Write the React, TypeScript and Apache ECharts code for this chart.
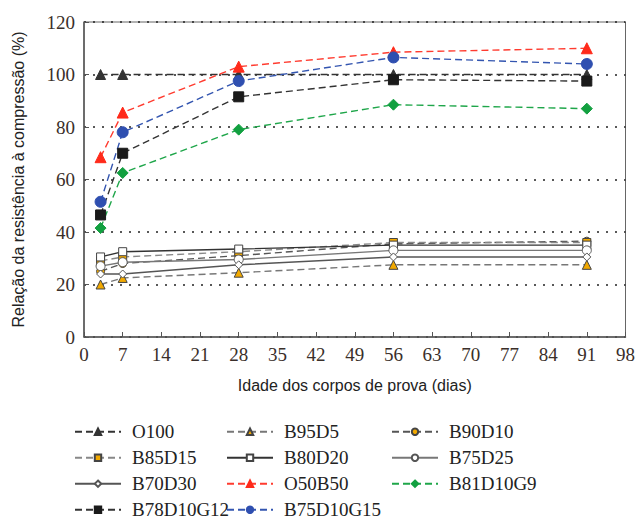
import React, { useEffect, useRef } from "react";
import * as echarts from "echarts";

const days = [3, 7, 28, 56, 91];
const xTicks = [0, 7, 14, 21, 28, 35, 42, 49, 56, 63, 70, 77, 84, 91, 98];
const yTicks = [0, 20, 40, 60, 80, 100, 120];

const O100 = [100, 100, 100, 100, 100];
const B95D5 = [20, 22.5, 24.5, 27.5, 27.5];
const B90D10 = [25, 28, 31, 35.5, 36.5];
const B85D15 = [29, 30.5, 32.5, 36, 36];
const B80D20 = [30.5, 32.5, 33.5, 35, 35];
const B75D25 = [27, 28.5, 29.5, 33, 33];
const B70D30 = [24, 24, 27.5, 30.5, 30.5];
const O50B50 = [68.5, 85.5, 103, 108.5, 110];
const B81D10G9 = [41.5, 62.5, 79, 88.5, 87];
const B78D10G12 = [46.5, 70, 91.5, 98, 97.5];
const B75D10G15 = [51.5, 78, 97.5, 106.5, 104];

const ORANGE = "#f2a900";

type Spec = {
  name: string;
  data: number[];
  color: string;
  dash: boolean;
  symbol: string;
  fill: string;
  border: string;
  size: number;
};

const specs: Spec[] = [
  { name: "O100", data: O100, color: "#333333", dash: true, symbol: "triangle", fill: "#333333", border: "#333333", size: 10 },
  { name: "B95D5", data: B95D5, color: "#777777", dash: true, symbol: "triangle", fill: ORANGE, border: "#444444", size: 9 },
  { name: "B90D10", data: B90D10, color: "#555555", dash: true, symbol: "circle", fill: ORANGE, border: "#444444", size: 8 },
  { name: "B85D15", data: B85D15, color: "#888888", dash: true, symbol: "rect", fill: ORANGE, border: "#444444", size: 8 },
  { name: "B80D20", data: B80D20, color: "#333333", dash: false, symbol: "rect", fill: "#ffffff", border: "#444444", size: 8 },
  { name: "B75D25", data: B75D25, color: "#777777", dash: false, symbol: "circle", fill: "#ffffff", border: "#555555", size: 9 },
  { name: "B70D30", data: B70D30, color: "#555555", dash: false, symbol: "diamond", fill: "#ffffff", border: "#555555", size: 8 },
  { name: "O50B50", data: O50B50, color: "#ff3b2f", dash: true, symbol: "triangle", fill: "#ff2a1a", border: "#ff2a1a", size: 11 },
  { name: "B81D10G9", data: B81D10G9, color: "#1fa64a", dash: true, symbol: "diamond", fill: "#12a040", border: "#12a040", size: 11 },
  { name: "B78D10G12", data: B78D10G12, color: "#333333", dash: true, symbol: "rect", fill: "#1a1a1a", border: "#1a1a1a", size: 10 },
  { name: "B75D10G15", data: B75D10G15, color: "#3355b0", dash: true, symbol: "circle", fill: "#2f4fb0", border: "#2f4fb0", size: 11 },
];

const legendCols = [
  ["O100", "B85D15", "B70D30", "B78D10G12"],
  ["B95D5", "B80D20", "O50B50", "B75D10G15"],
  ["B90D10", "B75D25", "B81D10G9"],
];
const legendLeft = [74, 226, 391];

export default function App() {
  const ref = useRef<HTMLDivElement>(null);
  useEffect(() => {
    if (!ref.current) return;
    const chart = echarts.init(ref.current, undefined, { renderer: "svg" });
    const serif = "'Liberation Serif', 'Times New Roman', serif";
    const sans = "'Liberation Sans', Arial, sans-serif";
    chart.setOption({
      animation: false,
      backgroundColor: "#ffffff",
      grid: {
        left: 84,
        right: 11,
        top: 22,
        bottom: 182,
        show: true,
        borderColor: "#666666",
        borderWidth: 1,
      },
      xAxis: {
        type: "value",
        min: 0,
        max: 98,
        interval: 7,
        name: "Idade dos corpos de prova (dias)",
        nameLocation: "middle",
        nameGap: 40,
        nameTextStyle: { fontFamily: sans, fontSize: 16, color: "#222" },
        axisLine: { lineStyle: { color: "#555", width: 1.5 } },
        axisTick: { inside: true, length: 5, lineStyle: { color: "#555" } },
        axisLabel: {
          fontFamily: serif,
          fontSize: 19,
          color: "#3a2f2a",
          margin: 8,
          hideOverlap: false,
          formatter: (v: number) => (xTicks.includes(v) ? String(v) : ""),
        },
        splitLine: { show: false },
      },
      yAxis: {
        type: "value",
        min: 0,
        max: 120,
        interval: 20,
        name: "Relação da resistência à compressão (%)",
        nameLocation: "middle",
        nameGap: 58,
        nameTextStyle: { fontFamily: sans, fontSize: 16, color: "#222" },
        axisLine: { show: true, lineStyle: { color: "#555", width: 1.5 } },
        axisTick: { show: true, inside: true, length: 5, lineStyle: { color: "#555" } },
        axisLabel: {
          fontFamily: serif,
          fontSize: 19,
          color: "#3a2f2a",
          margin: 9,
          formatter: (v: number) => (yTicks.includes(v) ? String(v) : ""),
        },
        splitLine: {
          show: true,
          lineStyle: { color: "#222", type: [2, 7], width: 1.5 },
        },
      },
      legend: legendCols.map((col, i) => ({
        data: col,
        orient: "vertical",
        left: legendLeft[i],
        top: 421,
        height: 110,
        padding: 0,
        itemWidth: 46,
        itemHeight: 8,
        itemGap: 4.5,
        textStyle: { fontFamily: serif, fontSize: 19, color: "#222", padding: [0, 0, 0, 6], lineHeight: 21.5 },
      })),
      series: specs.map((s) => ({
        name: s.name,
        type: "line",
        data: s.data.map((v, i) => [days[i], v]),
        symbol: s.symbol,
        symbolSize: s.size,
        lineStyle: { color: s.color, width: 1.4, type: s.dash ? [7, 4] : "solid" },
        itemStyle: { color: s.fill, borderColor: s.border, borderWidth: 1 },
        emphasis: { disabled: true },
      })),
    });
    return () => chart.dispose();
  }, []);
  return <div ref={ref} style={{ position: "fixed", left: 0, top: 0, width: 638, height: 519 }} />;
}
